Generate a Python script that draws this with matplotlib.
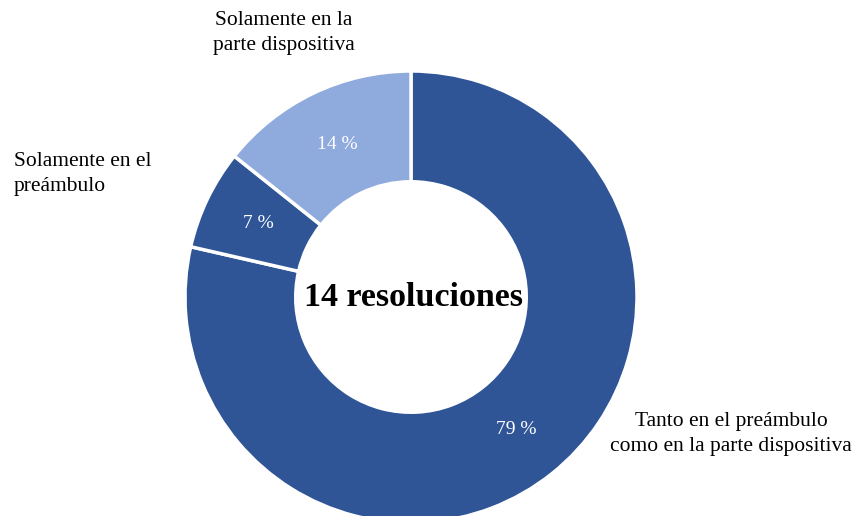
import matplotlib.pyplot as plt

# Number of resolutions per location
categories = ['Tanto en el preámbulo\ncomo en la parte dispositiva',
              'Solamente en el\npreámbulo',
              'Solamente en la\nparte dispositiva']
counts = [11, 1, 2]
colors = ['#2F5597', '#2F5597', '#8FAADC']
total_label = '14 resoluciones'

plt.rcParams['font.family'] = ['Liberation Serif', 'DejaVu Serif']

fig = plt.figure(figsize=(8.58, 5.16), dpi=100)
ax = fig.add_axes([0, 0, 1, 1])

wedges, texts, autotexts = ax.pie(
    counts, colors=colors, startangle=90, counterclock=False,
    center=(411, 219), radius=226, frame=True,
    autopct=lambda p: f'{p:.0f} %', pctdistance=0.75,
    wedgeprops=dict(width=226 * 0.49, edgecolor='white', linewidth=2.5),
    textprops=dict(color='white', fontsize=14))
ax.set_xlim(0, 858)
ax.set_ylim(0, 516)
ax.set_aspect('equal')
ax.axis('off')

ax.text(413, 219, total_label, ha='center', va='center',
        fontsize=24.5, fontweight='bold', color='black')

ax.text(731, 516 - 434, categories[0], ha='center', va='center',
        fontsize=15.5, linespacing=1.4)
ax.text(14, 516 - 174, categories[1], ha='left', va='center',
        fontsize=15.5, linespacing=1.4)
ax.text(284, 516 - 33, categories[2], ha='center', va='center',
        fontsize=15.5, linespacing=1.4)

plt.savefig('out.png', dpi=100)
